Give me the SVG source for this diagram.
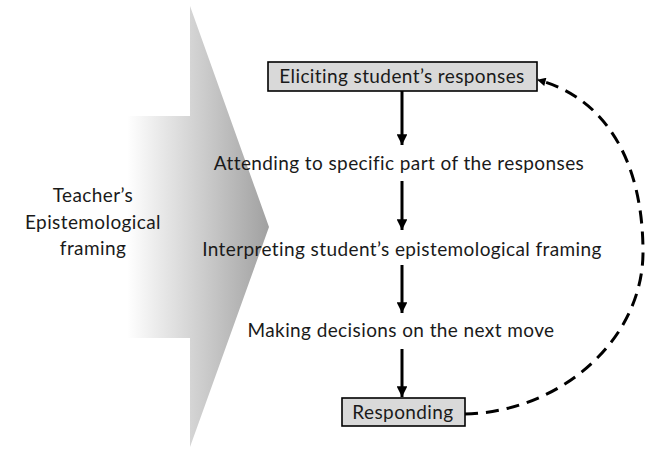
<svg xmlns="http://www.w3.org/2000/svg" width="651" height="449" viewBox="0 0 651 449">
  <style>
    .lbl { font-family: Lato, "Liberation Sans", sans-serif; font-size: 19px; letter-spacing: 0.4px; fill: #1a1a1a; text-anchor: middle; }
    .box { fill: #d9d9d9; stroke: #000; stroke-width: 1.6; }
    .flow { stroke: #000; stroke-width: 3; fill: none; marker-end: url(#head); }
    .loop { stroke: #000; stroke-width: 3; fill: none; stroke-dasharray: 13 8; marker-end: url(#headSmall); }
  </style>
  <defs>
    <linearGradient id="shade" gradientUnits="userSpaceOnUse" x1="127" y1="0" x2="270" y2="0">
      <stop offset="0" stop-color="#ffffff"/>
      <stop offset="1" stop-color="#a0a0a0"/>
    </linearGradient>
    <marker id="head" viewBox="0 0 10 10" refX="10" refY="5" markerWidth="3.6" markerHeight="3.6" orient="auto" markerUnits="strokeWidth">
      <path d="M0,0 L10,5 L0,10 Z" fill="#000"/>
    </marker>
    <marker id="headSmall" viewBox="0 0 10 10" refX="9" refY="5" markerWidth="3.2" markerHeight="2.8" orient="auto" markerUnits="strokeWidth">
      <path d="M0,0 L10,5 L0,10 Z" fill="#000"/>
    </marker>
  </defs>

  <!-- broad shaded arrow behind the process -->
  <g id="framing">
    <path d="M127,116 L190,116 L190,6 L269,227 L190,447 L190,338 L127,338 Z" fill="url(#shade)"/>
    <text class="lbl" x="93" y="202">Teacher’s</text>
    <text class="lbl" x="93" y="229">Epistemological</text>
    <text class="lbl" x="93" y="255">framing</text>
  </g>

  <g id="connectors">
    <line class="flow" x1="402" y1="91" x2="402" y2="145"/>
    <line class="flow" x1="402" y1="181" x2="402" y2="230"/>
    <line class="flow" x1="402" y1="265" x2="402" y2="313"/>
    <line class="flow" x1="402" y1="349" x2="402" y2="397"/>
    <path class="loop" d="M465,414 C560,412 643,340 643,252 C643,162 606,98 538,80"/>
  </g>

  <g id="eliciting">
    <rect class="box" x="268" y="62" width="269" height="29"/>
    <text class="lbl" x="402" y="83">Eliciting student’s responses</text>
  </g>
  <g id="attending">
    <text class="lbl" x="399" y="170">Attending to specific part of the responses</text>
  </g>
  <g id="interpreting">
    <text class="lbl" x="402" y="256">Interpreting student’s epistemological framing</text>
  </g>
  <g id="deciding">
    <text class="lbl" x="401" y="337">Making decisions on the next move</text>
  </g>
  <g id="responding">
    <rect class="box" x="342" y="398" width="123" height="28"/>
    <text class="lbl" x="403" y="419">Responding</text>
  </g>
</svg>
